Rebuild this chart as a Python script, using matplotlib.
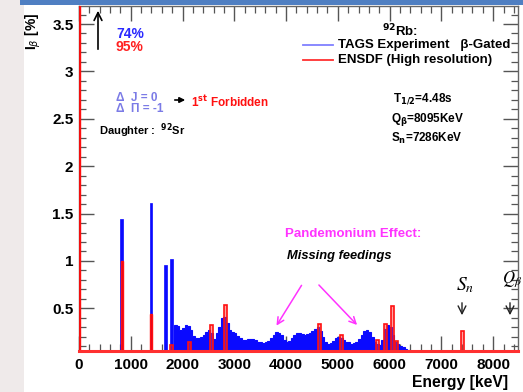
import matplotlib
matplotlib.use("Agg")
import matplotlib.pyplot as plt
from matplotlib.patches import Rectangle, FancyArrowPatch
from matplotlib.lines import Line2D
from matplotlib.ticker import MultipleLocator
import numpy as np

plt.rcParams['font.family'] = ['Liberation Sans', 'DejaVu Sans']

# ---------------- data ----------------
# TAGS (beta-gated) discrete peaks: energy [keV], intensity [%]
tags_peak_E = [0, 826, 1391, 1675, 1791]
tags_peak_I = [74.0, 1.44, 1.61, 0.96, 1.02]

# TAGS continuum (50 keV bins starting at 1840 keV)
tags_cont_start = 1840
tags_cont_width = 50
tags_cont_I = [0.32, 0.31, 0.27, 0.29, 0.32, 0.31, 0.27, 0.21, 0.19, 0.19,
               0.20, 0.22, 0.25, 0.27, 0.24, 0.18, 0.24, 0.30, 0.40, 0.41,
               0.35, 0.27, 0.25, 0.24, 0.21, 0.19, 0.17, 0.17, 0.18, 0.18,
               0.18, 0.17, 0.15, 0.14, 0.13, 0.15, 0.16, 0.19, 0.22, 0.25,
               0.24, 0.22, 0.17, 0.15, 0.16, 0.19, 0.22, 0.24, 0.24, 0.23,
               0.22, 0.23, 0.24, 0.26, 0.28, 0.30, 0.26, 0.20, 0.15, 0.12,
               0.13, 0.16, 0.19, 0.20, 0.19, 0.17, 0.15, 0.14, 0.12, 0.13,
               0.15, 0.18, 0.22, 0.26, 0.27, 0.25, 0.20, 0.15, 0.12, 0.11,
               0.17, 0.28, 0.32, 0.30, 0.22, 0.15, 0.12, 0.10, 0.09, 0.07,
               0.06, 0.05]

# ENSDF (high resolution) feedings
ensdf_narrow_E = [0, 826, 1391]
ensdf_narrow_I = [95.0, 1.00, 0.44]
ensdf_E = [1795, 2135, 2555, 2835, 4643, 5075, 5764, 5925, 6048, 6137, 7400]
ensdf_I = [0.11, 0.15, 0.32, 0.54, 0.34, 0.22, 0.17, 0.34, 0.53, 0.16, 0.26]

x_ticks = [0, 1000, 2000, 3000, 4000, 5000, 6000, 7000, 8000]
y_ticks = [0.5, 1, 1.5, 2, 2.5, 3, 3.5]
y_ticklabels = ['0.5', '1', '1.5', '2', '2.5', '3', '3.5']
x_lim = (0, 8480)
y_lim = (0.05, 3.69)

# ---------------- figure ----------------
W, H = 523, 392
fig = plt.figure(figsize=(W / 100, H / 100), dpi=100)
fig.patch.set_facecolor('white')

def fx(x):
    return x / W

def fy(y):
    return 1 - y / H

# gray left margin
fig.add_artist(Rectangle((0, 0), fx(24), 1, transform=fig.transFigure,
                         facecolor='#efeaea', edgecolor='none', zorder=0))

ax = fig.add_axes([fx(79), fy(351), fx(518) - fx(79), fy(6) - fy(351)])
ax.set_facecolor('white')

blue = '#0a0aff'
red = '#ff1010'

# blue continuum
edges = tags_cont_start + tags_cont_width * np.arange(len(tags_cont_I) + 1)
ax.stairs(tags_cont_I, edges, fill=True, facecolor=blue, edgecolor=blue,
          linewidth=0.8, baseline=0, zorder=2)
# blue peaks
ax.bar(tags_peak_E, tags_peak_I, width=55, color=blue, edgecolor=blue,
       linewidth=0.5, zorder=2)

# red ENSDF bars
ax.bar(ensdf_narrow_E, ensdf_narrow_I, width=40, facecolor=(1, 0, 0, 0.85),
       edgecolor=red, linewidth=1.0, zorder=3)
ax.bar(ensdf_E, ensdf_I, width=60, facecolor=(1, 0.2, 0.2, 0.45),
       edgecolor=red, linewidth=1.2, zorder=3)
# red baseline of the ENSDF histogram
ax.axhline(y_lim[0], color='#ff3030', lw=2.2, zorder=4, clip_on=False)

ax.set_xlim(*x_lim)
ax.set_ylim(*y_lim)
ax.set_xticks(x_ticks)
ax.set_yticks(y_ticks)
ax.set_yticklabels(y_ticklabels)
ax.xaxis.set_minor_locator(MultipleLocator(200))
ax.yaxis.set_minor_locator(MultipleLocator(0.1))
ax.tick_params(which='both', direction='in', top=True, right=True,
               color='#555555')
ax.tick_params(which='major', length=11, width=1.0)
ax.tick_params(which='minor', length=5, width=0.9)
ax.tick_params(axis='y', which='major', pad=4)
ax.tick_params(axis='x', which='major', pad=5)
for lab in ax.get_xticklabels() + ax.get_yticklabels():
    lab.set_fontweight('bold')
    lab.set_fontsize(11)
for s in ax.spines.values():
    s.set_color('#666666')
    s.set_linewidth(1.0)

# blue frame top (drawn over the plot top)
fig.add_artist(Rectangle((fx(20), fy(5)), 1, fy(0) - fy(5) + 0.01,
                         transform=fig.transFigure, facecolor='#4f7fc2',
                         edgecolor='none', zorder=10))

# ---------------- texts ----------------
def t(x, y, s, **kw):
    kw.setdefault('ha', 'left')
    kw.setdefault('va', 'center')
    return fig.text(fx(x), fy(y), s, **kw)

def arrow(x0, y0, x1, y1, **kw):
    fig.add_artist(FancyArrowPatch((fx(x0), fy(y0)), (fx(x1), fy(y1)),
                                   transform=fig.transFigure, **kw))

t(33, 31, r'I$_\beta$ [%]', rotation=90, ha='center', fontsize=10,
  fontweight='bold', zorder=5)

t(116, 34, '74%', color='#2a2aff', fontsize=10, fontweight='bold')
t(116, 47, '95%', color='#ff2020', fontsize=10, fontweight='bold')
arrow(98, 52, 98, 8, arrowstyle='->', mutation_scale=14, lw=1.2,
      color='black', zorder=6)

t(116, 98, 'Δ  J = 0', color='#7b7be6', fontsize=8.5, fontweight='bold')
t(116, 109, 'Δ  Π = -1', color='#7b7be6', fontsize=8.5, fontweight='bold')
arrow(172, 100, 188, 100, arrowstyle='-|>', mutation_scale=8, lw=1.2,
      color='black')
t(191, 102, r'1$^{\mathbf{st}}$ Forbidden', color='#ff1010', fontsize=8.5,
  fontweight='bold')
t(99, 131, r'Daughter :  $^{\mathbf{92}}$Sr', color='black', fontsize=8,
  fontweight='bold')

t(382, 31, r'$^{\mathbf{92}}$Rb:', fontsize=9.5, fontweight='bold')
fig.add_artist(Line2D([fx(303), fx(333)], [fy(45), fy(45)],
                      color='#8080ff', lw=1.3))
fig.add_artist(Line2D([fx(303), fx(333)], [fy(60), fy(60)],
                      color='#ff3030', lw=1.3))
t(338, 45, 'TAGS Experiment   β-Gated', fontsize=9.5, fontweight='bold')
t(338, 60, 'ENSDF (High resolution)', fontsize=9.5, fontweight='bold')

t(393, 99, r'T$_{\mathbf{1/2}}$=4.48s', fontsize=8.5, fontweight='bold')
t(391, 120, r'Q$_{\mathbf{\beta}}$=8095KeV', fontsize=8.5, fontweight='bold')
t(391, 138, r'S$_{\mathbf{n}}$=7286KeV', fontsize=8.5, fontweight='bold')

t(285, 234, 'Pandemonium Effect:', color='#ff33ff', fontsize=9.5,
  fontweight='bold')
t(287, 256, 'Missing feedings', color='black', fontsize=9.3,
  fontweight='bold', fontstyle='italic')
arrow(303, 283, 275, 328, arrowstyle='->', mutation_scale=12, lw=1.1,
      color='#ff33ff')
arrow(317, 283, 359, 327, arrowstyle='->', mutation_scale=12, lw=1.1,
      color='#ff33ff')

t(465, 285, r'$S_n$', ha='center', fontsize=14, math_fontfamily='stix')
t(502, 279, r'$Q_\beta$', ha='left', fontsize=12, math_fontfamily='stix')
for x in (462, 510):
    arrow(x, 300, x, 318, arrowstyle='->', mutation_scale=14, lw=1.0,
          color='#222222')

t(412, 382, 'Energy [keV]', fontsize=11.3, fontweight='bold')

fig.savefig('out.png', dpi=100)
